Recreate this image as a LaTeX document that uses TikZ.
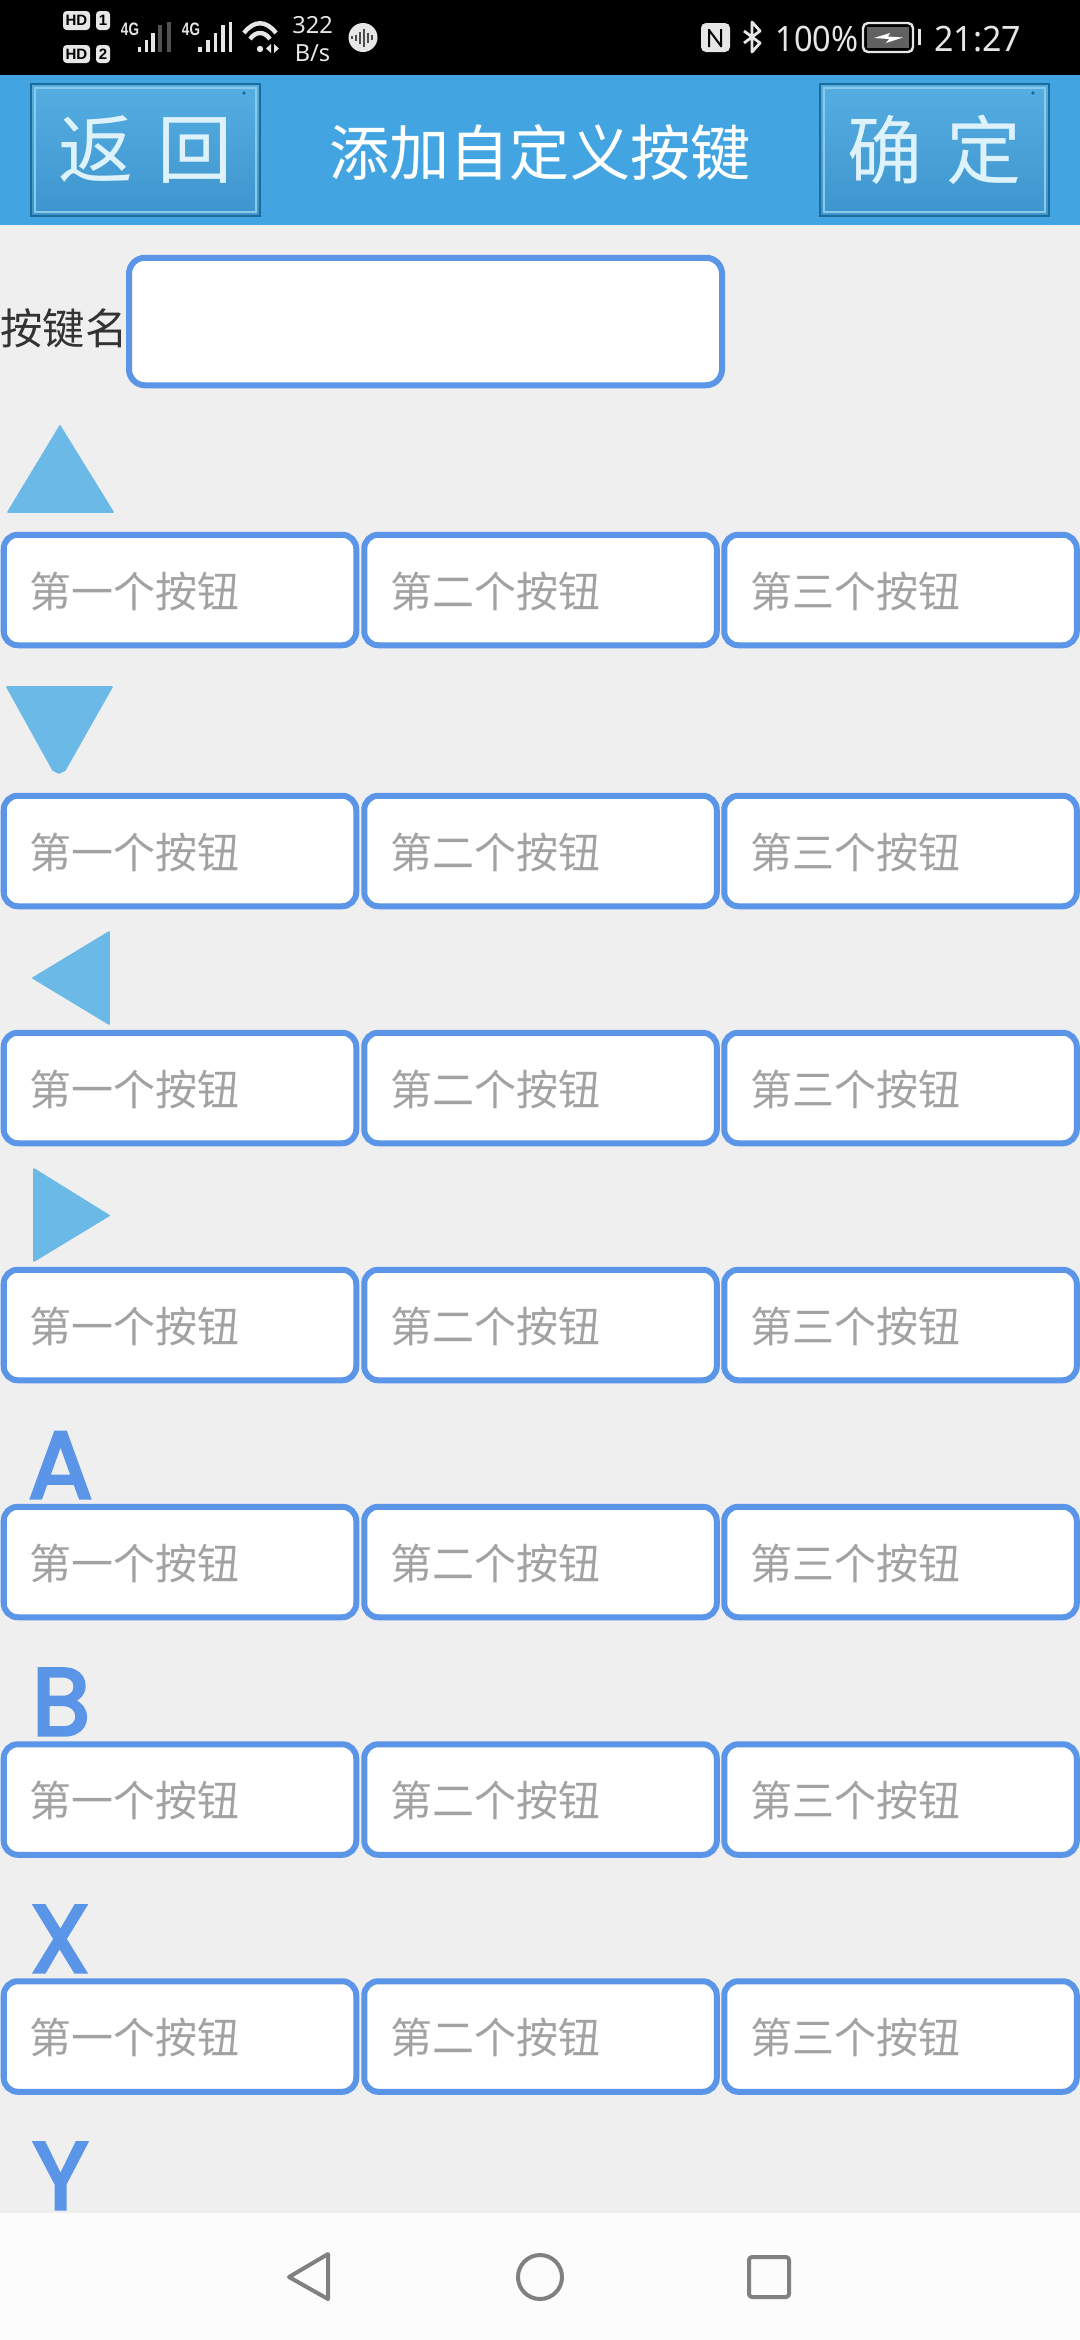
\documentclass[tikz,border=0pt]{standalone}
\usepackage{fontspec}
\setmainfont{Liberation Sans}
\newfontfamily\cjk{Noto Sans CJK SC}
\newfontfamily\statusfont{Noto Sans}
\newfontfamily\letterfont[FakeBold=3.5]{Poppins}
\definecolor{barblue}{HTML}{42A5E1}
\definecolor{pagebg}{HTML}{EFEFF0}
\definecolor{fieldline}{HTML}{5B95E8}
\definecolor{tri}{HTML}{6BB9E6}
\definecolor{hint}{HTML}{A2A2A2}
\definecolor{navgray}{HTML}{808080}
\definecolor{navbg}{HTML}{FCFCFC}
\definecolor{stat}{HTML}{E6E6E6}
\definecolor{btnedge}{HTML}{1B6C9C}
\definecolor{btnrim}{HTML}{8CCBE8}
\definecolor{btntop}{HTML}{55AEE2}
\definecolor{btnbot}{HTML}{3E95CE}
\definecolor{glyph}{HTML}{DDF2FB}
\newcommand{\slotlabel}[1]{\raisebox{0pt}[17pt][0pt]{#1}}
\tikzset{
  field/.style={draw=fieldline,fill=white,line width=3pt,rounded corners=8pt,inner sep=0pt},
  slotbox/.style={field,rounded corners=7pt,text width=150.25pt,inner xsep=13pt,inner ysep=0pt,minimum height=55.25pt,align=left,text=hint,font=\cjk\fontsize{21pt}{24pt}\selectfont},
  headbtn/.style={draw=btnedge,line width=1.2pt,top color=btntop,bottom color=btnbot,minimum width=114.5pt,minimum height=66pt,inner sep=0pt,text=glyph,font=\cjk\fontsize{37.5pt}{42pt}\selectfont},
  rim/.style={draw=btnrim,line width=1pt},
  trifill/.style={fill=tri,draw=tri,line width=0.8pt,line join=round},
  keyletter/.style={text=fieldline,inner sep=0pt,anchor=base,font=\letterfont\fontsize{47.5pt}{50pt}\selectfont},
  navicon/.style={draw=navgray,line width=2pt,line join=round},
  stattext/.style={text=stat,inner sep=0pt,font=\statusfont\fontsize{17.5pt}{20pt}\selectfont},
  pill/.style={fill=stat,rounded corners=1.8pt,inner sep=0pt,text=black,font=\bfseries\fontsize{7.5pt}{8pt}\selectfont},
  netlabel/.style={text=stat,inner sep=0pt,font=\bfseries\fontsize{9pt}{10pt}\selectfont,xscale=.75},
  sigon/.style={draw=stat},
  sigoff/.style={draw=stat!35!black},
}
\begin{document}
\begin{tikzpicture}[x=0.5pt,y=-0.5pt]
\useasboundingbox (0,0) rectangle (1080,2340);
\fill[pagebg] (0,0) rectangle (1080,2340);
\fill[black] (0,0) rectangle (1080,75);
\fill[barblue] (0,75) rectangle (1080,225);

% status bar, left
\node[pill,minimum width=13.5pt,minimum height=9.5pt] (hd1) at (76.5,20.5) {HD};
\node[pill,minimum width=7pt,minimum height=9.5pt] (sim1) at (103,20.5) {1};
\node[pill,minimum width=13.5pt,minimum height=9pt] (hd2) at (76.5,54) {HD};
\node[pill,minimum width=7pt,minimum height=9pt] (sim2) at (103,54) {2};
\node[netlabel] (net1) at (130,29.5) {4G};
\node[netlabel] (net2) at (191,29.5) {4G};
\foreach \x/\t/\s in {139.5/47/sigon,146.5/40/sigon,153/33/sigon,160/25/sigoff,169/22/sigoff,
                      200/47/sigon,208/40/sigon,215.5/33/sigon,223/25/sigon,230.5/22/sigon}
  \draw[\s,line width=1.8pt] (\x,\t) -- (\x,52);
\fill[stat] (260,49) circle (3.2);
\draw[stat,line width=2.2pt] (244,33) .. controls (254,20) and (266,20) .. (276,33);
\draw[stat,line width=2.2pt] (250,39) .. controls (256,31) and (264,31) .. (270,39);
\fill[stat] (271,44) -- (266,48.5) -- (271,53) -- cycle;
\fill[stat] (274,44) -- (279,48.5) -- (274,53) -- cycle;
\node[stattext,font=\statusfont\fontsize{11.8pt}{13pt}\selectfont] (rate) at (312.5,25) {322};
\node[stattext,font=\statusfont\fontsize{11.8pt}{13pt}\selectfont] (unit) at (312.5,53) {B/s};
\fill[stat] (363,37.5) circle (14.5);
\foreach \x/\h in {352/1.5,356/3,360/6,364/9,368/5,372/2.5}
  \draw[black!70,line width=0.6pt] (\x,37.5-\h) -- (\x,37.5+\h);

% status bar, right
\fill[stat,rounded corners=2.5pt] (701,23) rectangle (730,52);
\draw[black,line width=1pt] (709,29) -- (709,47) (721,29) -- (721,47) (709,30) -- (721,46);
\draw[stat,line width=1.4pt,line join=round] (744,31) -- (760,43) -- (752,52) -- (752,22) -- (760,31) -- (744,43);
\node[stattext,anchor=base west,xscale=.93] (pct) at (775,51) {100\%};
\draw[stat,line width=1.2pt,rounded corners=2.5pt] (863,23) rectangle (913,52);
\fill[black!62] (867,27) rectangle (909,48);
\fill[white] (874,38) -- (890,33) -- (888,36.5) -- (903,37.5) -- (886,43) -- (889,39) -- cycle;
\fill[stat] (918,29) rectangle (921,45);
\node[stattext,anchor=base west,xscale=.97] (clock) at (934,51) {21:27};

% title bar
\node[headbtn] (back) at (145.5,150) {\raisebox{1.5pt}{返\hspace{12pt}回}\hspace{7.5pt}};
\node[headbtn] (ok) at (934.5,150) {\raisebox{1.5pt}{确\hspace{12pt}定}\hspace{3pt}};
\draw[rim] (35,88) rectangle (256,212);
\draw[rim] (824,88) rectangle (1045,212);
\fill[btnedge] (244,93) circle (1.8);
\fill[btnedge] (1033,93) circle (1.8);
\node[text=white,inner sep=0pt,font=\cjk\fontsize{30.1pt}{32pt}\selectfont] (title) at (540,153) {添加自定义按键};

% name row
\node[text=black!80,inner sep=0pt,anchor=west,font=\cjk\fontsize{21.2pt}{24pt}\selectfont] (namelabel) at (0,328) {按键名};
\node[field,minimum width=296.5pt,minimum height=63.75pt] (namefield) at (425.5,321.5) {};

% direction markers
\path[trifill] (8,512) -- (60,426) -- (113,512) -- cycle;
\path[trifill] (7,687) -- (112,687) -- (65,770) -- (59,773) -- (53,770) -- cycle;
\path[trifill] (33,978) -- (109,932) -- (109,1024) -- cycle;
\path[trifill] (34,1169) -- (109,1215.5) -- (34,1261) -- cycle;

% letter markers
\node[keyletter] (keyA) at (60.5,1498) {A};
\node[keyletter] (keyB) at (61,1735) {B};
\node[keyletter] (keyX) at (60,1972) {X};
\node[keyletter] (keyY) at (60.5,2209) {Y};

% slots
\foreach \r/\y in {1/590,2/851,3/1088,4/1325,5/1562,6/1799.5,7/2036.5}{
  \node[slotbox] (r\r c1) at (180,\y) {\slotlabel{第一个按钮}};
  \node[slotbox] (r\r c2) at (540.5,\y) {\slotlabel{第二个按钮}};
  \node[slotbox] (r\r c3) at (900.5,\y) {\slotlabel{第三个按钮}};
}

% navigation bar
\fill[navbg] (0,2213) rectangle (1080,2340);
\path[navicon] (289,2277) -- (328,2254) -- (328,2299) -- cycle;
\draw[navicon] (540,2277) circle (22);
\draw[navicon,rounded corners=1.5pt] (749,2257) rectangle (789,2297);
\end{tikzpicture}
\end{document}
